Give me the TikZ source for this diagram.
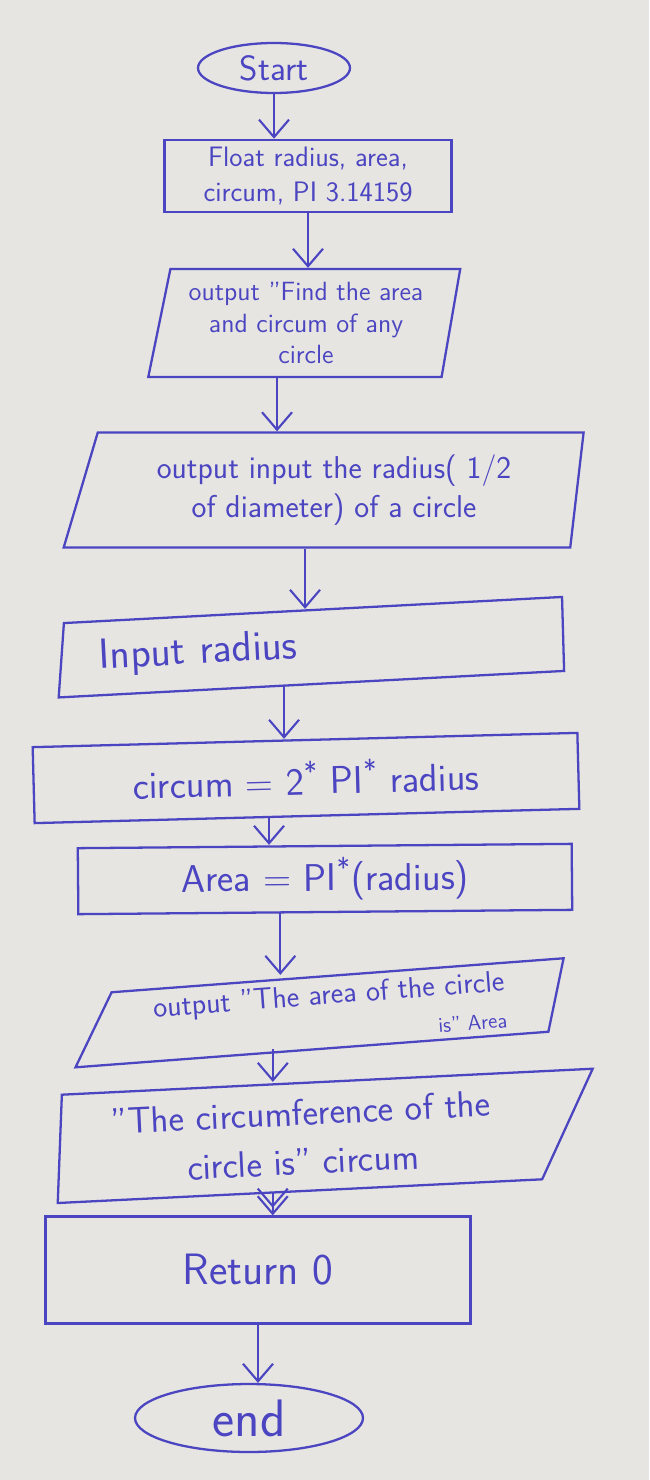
\documentclass[tikz,border=0pt]{standalone}
\usetikzlibrary{arrows.meta, shapes.geometric}
\definecolor{ink}{HTML}{4B45C2}
\definecolor{paper}{HTML}{E7E5E1}
\tikzset{
  hand/.style n args={2}{font=\sffamily\fontsize{#1}{#2}\selectfont},
  term/.style={draw=ink, ellipse, line width=1.3pt, inner sep=0pt, text=ink},
  proc/.style={draw=ink, rectangle, line width=1.3pt, inner sep=4pt, text=ink, align=center},
  io/.style={draw=ink, trapezium, trapezium stretches body, line width=1.3pt,
             inner sep=4pt, text=ink, align=center},
  flow/.style={-{Straight Barb[length=3.5mm, width=6mm]}, line width=1.2pt, ink},
}

\begin{document}
\begin{tikzpicture}[x=0.02cm, y=-0.02cm]
  % ---- paper ----
  \fill[paper] (0,0) rectangle (649,1480);
  \useasboundingbox (0,0) rectangle (649,1480);

  % ---- shapes ----
  \node[term, hand={20}{24}, minimum width=3.04cm, minimum height=1cm] (start) at (274,68) {Start};
  \node[proc, hand={16}{20}, minimum width=5.74cm, minimum height=1.44cm] (decl) at (308,176)
    {Float radius, area,\\ circum, PI 3.14159};
  \node[io, hand={15}{18}, trapezium left angle=77, trapezium right angle=101,
        minimum width=6.24cm, minimum height=2.16cm] (out1) at (306,323)
    {output "Find the area\\ and circum of any\\ circle};
  \node[io, hand={18}{22}, trapezium left angle=68, trapezium right angle=99,
        minimum width=10.4cm, minimum height=2.3cm] (out2) at (334,490)
    {output input the radius( 1/2\\ of diameter) of a circle};
  \node[io, hand={24}{28}, trapezium left angle=80, trapezium right angle=92, rotate=3,
        minimum width=10.16cm, minimum height=1.48cm, text width=9.2cm, align=left] (inp) at (314,647)
    {\hspace*{0.3cm}Input radius};
  \node[proc, hand={22}{26}, rotate=1.5, minimum width=10.9cm, minimum height=1.52cm] (calc1) at (306,778)
    {circum = 2\textsuperscript{*} PI\textsuperscript{*} radius};
  \node[proc, hand={22}{26}, rotate=0.5, minimum width=9.88cm, minimum height=1.32cm] (calc2) at (325,879)
    {Area = PI\textsuperscript{*}(radius)};
  \node[io, hand={17}{17}, trapezium left angle=60, trapezium right angle=106, rotate=4.3,
        minimum width=9.9cm, minimum height=1.24cm, align=right] (out3) at (330,1012)
    {output "The area of the circle\\[4pt] {\fontsize{12}{12}\selectfont is" Area}};
  \node[io, hand={21}{28}, trapezium left angle=84, trapezium right angle=122, rotate=2.8,
        minimum width=10.82cm, minimum height=2.16cm] (out4) at (302,1137)
    {"The circumference of the\\ circle is" circum};
  \node[proc, hand={25}{30}, minimum width=8.5cm, minimum height=2.14cm] (ret) at (258,1270) {Return 0};
  \node[term, hand={30}{36}, minimum width=4.56cm, minimum height=1.36cm] (end) at (249,1418) {end};

  % ---- connectors ----
  \draw[flow] (start.south) -- (start.south |- decl.north);
  \draw[flow] (decl.south) -- (decl.south |- out1.north);
  \draw[flow] ([xshift=-0.58cm]out1.south) -- ([xshift=-0.58cm]out1.south |- out2.north);
  \draw[flow] ([xshift=-0.58cm]out2.south) -- ([xshift=-0.58cm]out2.south |- inp.north);
  \draw[flow] ([xshift=-0.64cm]inp.south) -- ([xshift=-0.64cm]inp.south |- calc1.north);
  \draw[flow] ([xshift=-0.76cm]calc1.south) -- ([xshift=-0.76cm]calc1.south |- calc2.north);
  \draw[flow] ([xshift=-0.9cm]calc2.south) -- ([xshift=-0.9cm]calc2.south |- out3.north);
  \draw[flow] ([xshift=-1.2cm]out3.south) -- ([xshift=-1.2cm]out3.south |- out4.north);
  \draw[-{Straight Barb[length=3.5mm, width=6mm, sep=-2.5mm] Straight Barb[length=3.5mm, width=6mm]},
        line width=1.2pt, ink] ([xshift=-0.64cm]out4.south) -- ([xshift=-0.64cm]out4.south |- ret.north);
  \draw[flow] (ret.south) -- (ret.south |- end.north);
\end{tikzpicture}
\end{document}
